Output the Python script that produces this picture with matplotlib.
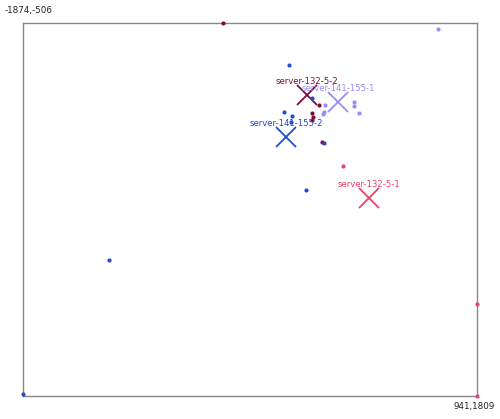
import matplotlib.pyplot as plt

# node positions per server (x, y in screen-like coords, y grows downward)
servers = ["server-132-5-2", "server-141-155-1", "server-141-155-2", "server-132-5-1"]
colors = ["#7d0b3c", "#9a8cf2", "#1f4fcf", "#e8446a"]

# server centroids (drawn as crosses)
center_x = [-113, 79, -243, 271]
center_y = [-59, -16, 201, 580]

# member points per server
pts_132_5_2_x = [-634, -39, -82, -76, -82, -20]
pts_132_5_2_y = [-506, 3, 53, 77, 96, 232]

pts_141_155_1_x = [-2, -8, -14, 178, 178, 209, 699]
pts_141_155_1_y = [3, 46, 59, -16, 9, 53, -469]

pts_141_155_2_x = [-225, -256, -206, -212, -82, -8, -119, -1341, -1874]
pts_141_155_2_y = [-245, 46, 71, 108, -41, 239, 530, 965, 1796]

pts_132_5_1_x = [110, 941, 941]
pts_132_5_1_y = [381, 1238, 1809]

point_x = [pts_132_5_2_x, pts_141_155_1_x, pts_141_155_2_x, pts_132_5_1_x]
point_y = [pts_132_5_2_y, pts_141_155_1_y, pts_141_155_2_y, pts_132_5_1_y]

all_x = sum(point_x, []) + center_x
all_y = sum(point_y, []) + center_y
xmin, xmax = min(all_x), max(all_x)
ymin, ymax = min(all_y), max(all_y)

fig = plt.figure(figsize=(5, 4.19), dpi=100)
ax = fig.add_axes([0.046, 0.055, 0.908, 0.890])

for name, col, cx, cy, px, py in zip(servers, colors, center_x, center_y, point_x, point_y):
    ax.scatter(px, py, s=9, color=col, linewidths=0, clip_on=False, zorder=3)
    ax.plot(cx, cy, marker="x", markersize=15, mew=1.3, color=col, linestyle="none", zorder=2)
    ax.annotate(name, (cx, cy), xytext=(0, 10), textcoords="offset points",
                ha="center", va="center", fontsize=6.1, color=col, zorder=4)

ax.set_xlim(xmin, xmax)
ax.set_ylim(ymax, ymin)
ax.set_xticks([])
ax.set_yticks([])
for s in ax.spines.values():
    s.set_color("#888888")
    s.set_linewidth(1.0)

fig.text(0.01, 0.974, f"{xmin},{ymin}", ha="left", va="center", fontsize=6.3, color="#222222")
fig.text(0.99, 0.029, f"{xmax},{ymax}", ha="right", va="center", fontsize=6.3, color="#222222")

plt.savefig("out.png", dpi=100)
plt.close()
